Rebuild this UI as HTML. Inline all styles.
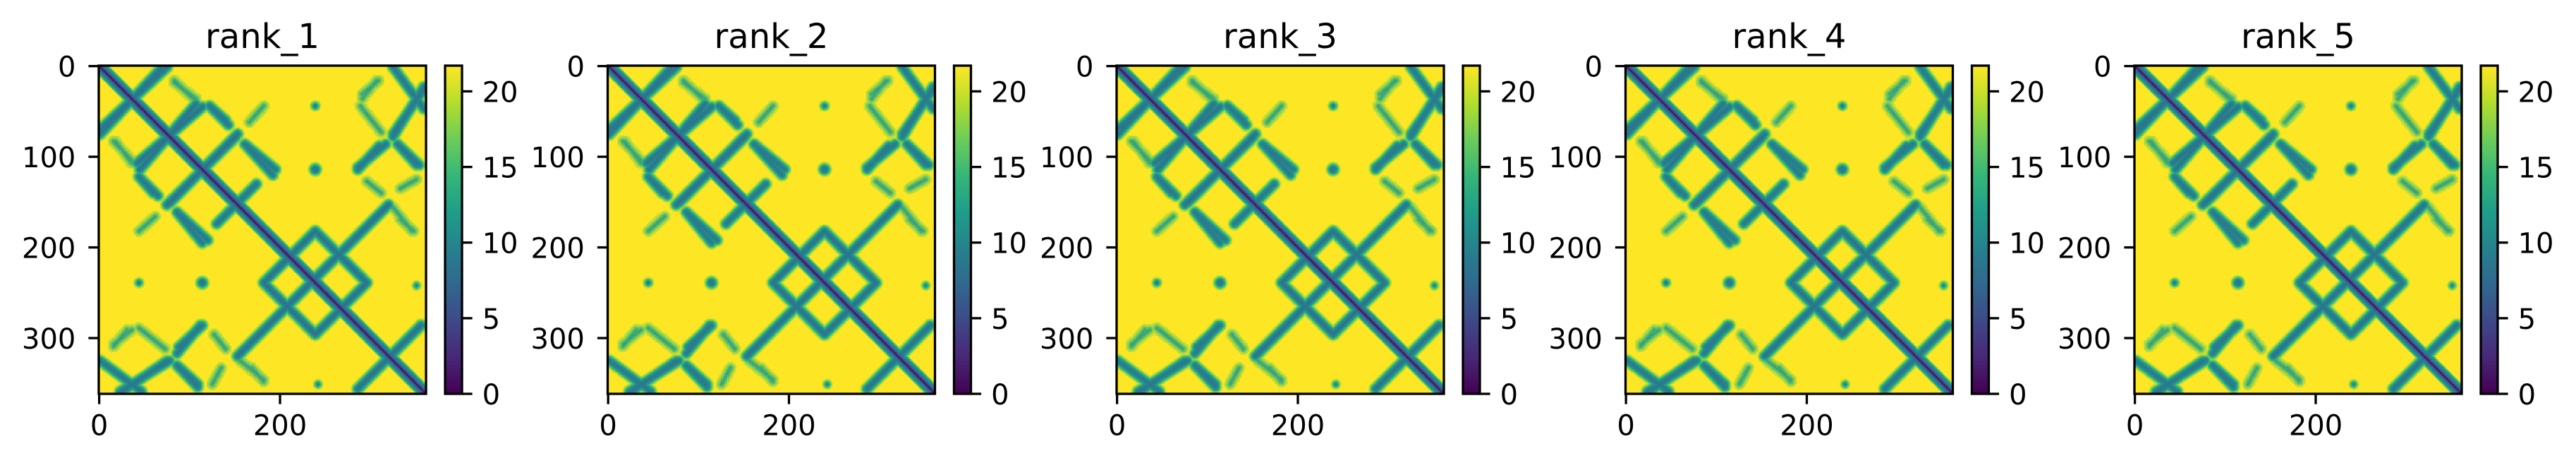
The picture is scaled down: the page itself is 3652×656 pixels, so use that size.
<!DOCTYPE html>
<html><head><meta charset="utf-8"><style>
html,body{margin:0;padding:0;background:#fff;}
#root{position:relative;width:3652px;height:656px;overflow:hidden;background:#fff;}
canvas{position:absolute;image-rendering:pixelated;}
svg{position:absolute;left:0;top:0;}
text{font-family:"DejaVu Sans","Liberation Sans",sans-serif;fill:#000;}
</style></head><body>
<div id="root"></div>
<script>
// ---- data ----
const N = 362;
const VMAX = 21.7;
const panelTitles = ["rank_1","rank_2","rank_3","rank_4","rank_5"];
const xTicks = [0, 200];
const yTicks = [0, 100, 200, 300];
const cbTicks = [0, 5, 10, 15, 20];
const diagProfile = [0, 3, 5, 6.5, 8, 9, 9.8, 10.6, 11.5, 13, 15.5, 18.5, 21.7];
// band segments in residue coordinates (col1,row1)-(col2,row2)
const bandX1 = [1, 42, 122, 44, 78, 161, 86, 130, 153, 182, 239, 296, 239, 286, 1, 23, 325, 325, 286, 88, 330, 86];
const bandY1 = [70, 107, 44, 122, 151, 86, 161, 174, 320, 239, 182, 239, 296, 356, 325, 359, 1, 75, 112, 310, 86, 330];
const bandX2 = [75, 114, 140, 65, 153, 195, 120, 166, 320, 239, 296, 239, 182, 356, 47, 78, 359, 359, 317, 114, 354, 109];
const bandY2 = [1, 45, 60, 143, 75, 114, 192, 138, 153, 182, 239, 296, 239, 286, 359, 325, 47, 26, 86, 286, 109, 351];
const bandCore = [8, 8, 8.5, 8.5, 8, 8.5, 8.5, 8.5, 8, 8, 8, 8, 8, 8, 8.5, 8.5, 8.5, 8.5, 8.5, 8.5, 8.5, 8.5];
// faint bands
const faintX1 = [291, 291, 16, 16, 44, 44, 333, 296, 333, 156, 83];
const faintY1 = [47, 31, 83, 307, 289, 182, 169, 127, 135, 325, 18];
const faintX2 = [312, 309, 36, 36, 73, 62, 348, 312, 351, 182, 107];
const faintY2 = [73, 16, 104, 291, 312, 166, 182, 140, 125, 346, 36];
// isolated contact spots
const spotX = [239, 114, 239, 44, 351, 242];
const spotY = [114, 239, 44, 239, 242, 351];
const spotR = [4, 4, 2, 2, 1.5, 1.5];

const viridisStops = [[68,1,84],[72,40,120],[62,74,137],[49,104,142],[38,130,142],[31,158,137],[53,183,121],[109,205,89],[180,222,44],[253,231,37]];

function viridis(t){
  t=Math.max(0,Math.min(1,t));
  const p=t*(viridisStops.length-1), i=Math.min(Math.floor(p),viridisStops.length-2), f=p-i;
  const a=viridisStops[i], b=viridisStops[i+1];
  return [a[0]+(b[0]-a[0])*f, a[1]+(b[1]-a[1])*f, a[2]+(b[2]-a[2])*f];
}
function segDist(px,py,x1,y1,x2,y2){
  const dx=x2-x1, dy=y2-y1, L=dx*dx+dy*dy;
  let t=L?((px-x1)*dx+(py-y1)*dy)/L:0; t=Math.max(0,Math.min(1,t));
  const qx=x1+t*dx-px, qy=y1+t*dy-py; return Math.sqrt(qx*qx+qy*qy);
}
// build matrix
const M = new Float32Array(N*N);
for(let r=0;r<N;r++){for(let c=0;c<N;c++){
  const d=Math.abs(r-c);
  let v = d<diagProfile.length?diagProfile[d]:VMAX;
  const chk = ((r%2)+(c%2)===1)?1.2:-1.2;
  for(let k=0;k<bandX1.length;k++){
    const dd=Math.min(segDist(c,r,bandX1[k],bandY1[k],bandX2[k],bandY2[k]),segDist(r,c,bandX1[k],bandY1[k],bandX2[k],bandY2[k]));
    if(dd<9){const w=bandCore[k]+(dd<3?0.8*dd:2.4+2.2*(dd-3))+chk; if(w<v)v=w;}
  }
  for(let k=0;k<faintX1.length;k++){
    const dd=Math.min(segDist(c,r,faintX1[k],faintY1[k],faintX2[k],faintY2[k]),segDist(r,c,faintX1[k],faintY1[k],faintX2[k],faintY2[k]));
    if(dd<7){const w=12+1.5*dd+2.5*chk; if(w<v)v=w;}
  }
  for(let k=0;k<spotX.length;k++){
    const dd=Math.hypot(c-spotX[k],r-spotY[k]);
    if(dd<spotR[k]+6){const w=9+2.2*Math.max(0,dd-spotR[k]+1)+chk; if(w<v)v=w;}
  }
  M[r*N+c]=Math.min(VMAX,Math.max(0,v));
}}

const root=document.getElementById('root');
const NS="http://www.w3.org/2000/svg";
const svg=document.createElementNS(NS,'svg');
svg.setAttribute('width','3652');svg.setAttribute('height','656');


function mk(tag,attrs,parent){const e=document.createElementNS(NS,tag);for(const k in attrs)e.setAttribute(k,attrs[k]);parent.appendChild(e);return e;}

const AX_T=93, AX_B=558, AX_W=464, AX_H=465, TL=14.6, TW=3.3;
const panelLeft=[140,861.5,1583,2304.5,3026];

const img=new ImageData(N,N);
for(let i=0;i<N*N;i++){const col=viridis(M[i]/VMAX);img.data[i*4]=col[0];img.data[i*4+1]=col[1];img.data[i*4+2]=col[2];img.data[i*4+3]=255;}
const cbImg=new ImageData(1,256);
for(let i=0;i<256;i++){const col=viridis(1-i/255);cbImg.data[i*4]=col[0];cbImg.data[i*4+1]=col[1];cbImg.data[i*4+2]=col[2];cbImg.data[i*4+3]=255;}

panelTitles.forEach((title,p)=>{
  const L=panelLeft[p];
  const cv=document.createElement('canvas');
  cv.width=N;cv.height=N;
  cv.style.left=L+'px';cv.style.top=AX_T+'px';cv.style.width=AX_W+'px';cv.style.height=AX_H+'px';
  
  
  cv.getContext('2d').putImageData(img,0,0);
  root.appendChild(cv);
  const cb=document.createElement('canvas');
  cb.width=1;cb.height=256;
  const CBL=L+491, CBW=24;
  cb.style.left=CBL+'px';cb.style.top=AX_T+'px';cb.style.width=CBW+'px';cb.style.height=AX_H+'px';
  cb.style.imageRendering='auto';
  
  
  cb.getContext('2d').putImageData(cbImg,0,0);
  root.appendChild(cb);

  const g=mk('g',{},svg);
  
  
  const t=mk('text',{x:L+AX_W/2,y:68,'font-size':48,'text-anchor':'middle'},g);
  t.textContent=title;
  
  
  const sp=mk('rect',{x:L,y:AX_T,width:AX_W,height:AX_H,fill:'none',stroke:'#000','stroke-width':TW},g);
  
  
  const sx=v=>L+(v+0.5)/N*AX_W, sy=v=>AX_T+(v+0.5)/N*AX_H;
  xTicks.forEach(v=>{
    mk('line',{x1:sx(v),x2:sx(v),y1:AX_B,y2:AX_B+TL,stroke:'#000','stroke-width':TW},g);
    const tx=mk('text',{x:sx(v),y:AX_B+TL+14+30,'font-size':40,'text-anchor':'middle'},g);
    tx.textContent=v;
    
    
  });
  yTicks.forEach(v=>{
    mk('line',{x1:L-TL,x2:L,y1:sy(v),y2:sy(v),stroke:'#000','stroke-width':TW},g);
    const ty=mk('text',{x:L-TL-18,y:sy(v)+15,'font-size':40,'text-anchor':'end'},g);
    ty.textContent=v;
    
    
  });
  const cbf=mk('rect',{x:CBL,y:AX_T,width:CBW,height:AX_H,fill:'none',stroke:'#000','stroke-width':TW},g);
  
  
  cbTicks.forEach(v=>{
    const y=AX_B-v/VMAX*AX_H;
    mk('line',{x1:CBL+CBW,x2:CBL+CBW+TL,y1:y,y2:y,stroke:'#000','stroke-width':TW},g);
    const tc=mk('text',{x:CBL+CBW+TL+14,y:y+15,'font-size':40},g);
    tc.textContent=v;
    
    
  });
});
root.appendChild(svg);
</script>
</body></html>
